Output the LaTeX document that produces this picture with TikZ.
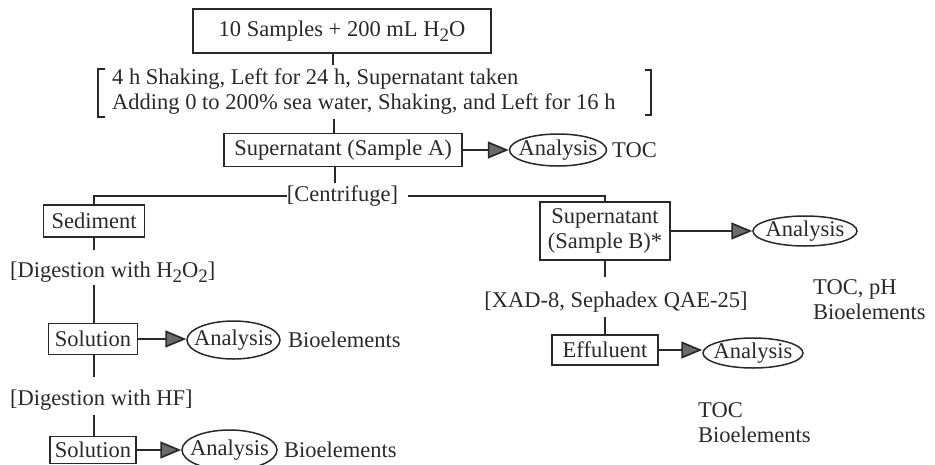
\documentclass[tikz,border=0pt]{standalone}
\usepackage{fontspec}
\setmainfont{Liberation Serif}
\usetikzlibrary{arrows.meta,shapes.geometric}
\definecolor{ink}{gray}{0.16}
\definecolor{tipgray}{gray}{0.42}
\newcommand\lowsub[1]{\raisebox{-0.22em}{\fontsize{19}{19}\selectfont #1}}
\begin{document}
\begin{tikzpicture}[x=1pt,y=-1pt,
  font=\fontsize{22.5}{25}\selectfont,
  box/.style={draw=ink, line width=1.8pt, inner sep=0pt},
  anal/.style={ellipse, draw=ink, line width=1.5pt, inner sep=0pt},
  link/.style={draw=ink, line width=1.7pt},
  arr/.style={link, -{Triangle[length=21pt,width=17pt,fill=tipgray]}},
  lbl/.style={inner sep=0pt, anchor=west, text=ink},
  txt/.style={inner sep=0pt, text=ink}]
\useasboundingbox (0,0) rectangle (935,464);

% top
\node[box, minimum width=298, minimum height=44, text=ink] (top) at (342,31) {10 Samples + 200 mL H\lowsub{2}O};
\coordinate (t1) at (333,65);
\draw[link] (top.south -| t1) -- (t1);

% conditions with tall brackets
\node[txt, anchor=west, align=left] (cond) at (112,92) {4 h Shaking, Left for 24 h, Supernatant taken\\Adding 0 to 200\% sea water, Shaking, and Left for 16 h};
\draw[link, line width=1.4pt] (105,69) -- (98,69) -- (98,117) -- (105,117);
\draw[link, line width=1.4pt] (645,70) -- (651,70) -- (651,115) -- (645,115);

% Supernatant A
\coordinate (t2) at (334,119);
\node[box, minimum width=238, minimum height=33, text=ink] (supA) at (343,150) {Supernatant (Sample A)};
\draw[link] (t2) -- (supA.north -| t2);
\node[anal, minimum width=97, minimum height=32, text=ink] (anA) at (558,150) {\makebox[0pt]{Analysis}};
\draw[arr] (supA.east) -- (anA.west);
\node[lbl] (tocA) at (612,150) {TOC};

% centrifuge
\coordinate (t3) at (335,183);
\draw[link] (supA.south -| t3) -- (t3);
\node[txt] (cent) at (342.5,196) {[Centrifuge]};

% left branch
\node[box, minimum width=101, minimum height=32, text=ink] (sed) at (94,221) {Sediment};
\draw[link] (cent.west) -| (sed.north);
\coordinate (s1) at (94,250);
\draw[link] (sed.south) -- (s1);
\node[lbl] (dig1) at (10,272) {[Digestion with H\lowsub{2}O\lowsub{2}]};
\coordinate (s2) at (94,285);
\node[box, minimum width=89, minimum height=31, text=ink] (sol1) at (93,339) {Solution};
\draw[link] (s2) -- (s2 |- sol1.north);
\node[anal, minimum width=93, minimum height=38, text=ink] (an1) at (233.5,340) {\makebox[0pt]{Analysis}};
\draw[arr] (sol1.east) -- (sol1.east -| an1.west);
\node[lbl] (bio1) at (288,340) {Bioelements};
\coordinate (s3) at (94,377);
\draw[link] (s3 |- sol1.south) -- (s3);
\node[lbl] (dig2) at (10,400) {[Digestion with HF]};
\coordinate (s4) at (94,415);
\node[box, minimum width=86, minimum height=27, text=ink] (sol2) at (93,450) {Solution};
\draw[link] (s4) -- (s4 |- sol2.north);
\node[anal, minimum width=95, minimum height=40, text=ink] (an2) at (229.5,450) {\makebox[0pt]{Analysis}};
\draw[arr] (sol2.east) -- (sol2.east -| an2.west);
\node[lbl] (bio2) at (284,450) {Bioelements};

% right branch
\node[box, minimum width=130, minimum height=58, align=center, text=ink] (supB) at (605,231) {Supernatant\\(Sample B)*};
\draw[link] ([xshift=10pt]cent.east) -| (supB.north);
\node[anal, minimum width=104, minimum height=30, text=ink] (anB) at (805,231) {\makebox[0pt]{Analysis}};
\draw[arr] (supB.east) -- (anB.west);
\node[lbl, align=left] (tocB) at (813,300) {TOC, pH\\Bioelements};
\coordinate (t5) at (605,277);
\draw[link] (supB.south) -- (t5);
\node[txt] (xad) at (616,302) {[XAD-8, Sephadex QAE-25]};
\coordinate (t6) at (605,317);
\node[box, minimum width=106, minimum height=30, text=ink] (eff) at (605,350) {Effuluent};
\draw[link] (t6) -- (eff.north);
\node[anal, minimum width=100, minimum height=30, text=ink] (anC) at (753,353) {\makebox[0pt]{Analysis}};
\draw[arr] (eff.east) -- (eff.east -| anC.west);
\node[lbl, align=left] (tocC) at (698,423) {TOC\\Bioelements};
\end{tikzpicture}
\end{document}
